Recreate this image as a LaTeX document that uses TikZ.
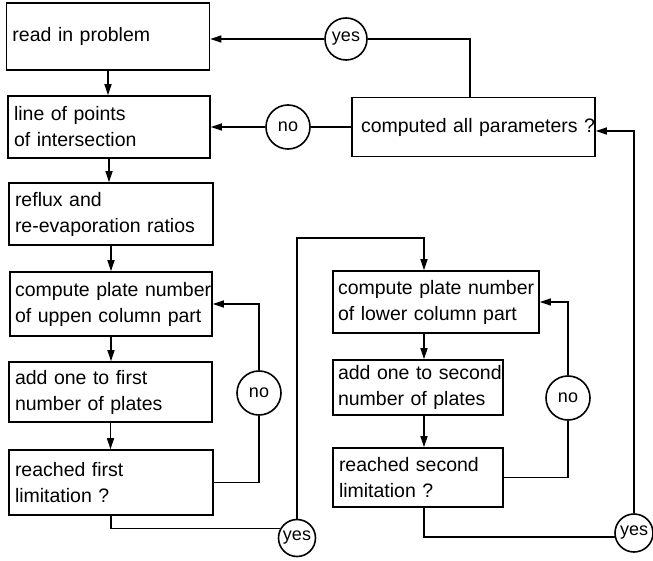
\documentclass[tikz,border=0pt]{standalone}
\usepackage{fontspec}
\setmainfont{Liberation Sans}
\usetikzlibrary{arrows.meta}
\begin{document}
\begin{tikzpicture}[x=1pt,y=-1pt,
  every node/.style={font=\fontsize{19.5}{26}\selectfont},
  box/.style={draw, line width=1.6pt, align=left, inner xsep=6pt, inner ysep=2pt},
  circ/.style={draw, circle, line width=1.6pt, inner sep=0pt, font=\fontsize{18}{20}\selectfont},
  conn/.style={line width=1.4pt},
  arr/.style={conn, -{Triangle[length=11pt,width=7pt]}}]
\useasboundingbox (0,0) rectangle (653,561);
% left column
\node[box, text width=191pt, minimum height=67pt] (read) at (108,36.5) {\mbox{read in problem}};
\node[box, text width=190pt, minimum height=62pt] (line) at (109,127) {\mbox{line of points}\\\mbox{of intersection}};
\node[box, text width=192pt, minimum height=62pt] (refl) at (111,214) {\mbox{reflux and}\\\mbox{re-evaporation ratios}};
\node[box, text width=192pt, minimum height=64pt, inner xsep=5pt] (cu) at (111,304) {\mbox{compute plate number}\\\mbox{of uppen column part}};
\node[box, text width=191pt, minimum height=60pt] (af) at (110.5,392) {\mbox{add one to first}\\\mbox{number of plates}};
\node[box, text width=192pt, minimum height=65pt] (fl) at (111,482.5) {\mbox{reached first}\\\mbox{limitation ?}};
% right column
\node[box, text width=225pt, inner xsep=9pt, minimum height=59pt] (comp) at (473.5,127) {\mbox{computed all parameters ?}};
\node[box, text width=196pt, inner xsep=5pt, minimum height=62pt] (cl) at (436,302) {\mbox{compute plate number}\\\mbox{of lower column part}};
\node[box, text width=160pt, inner xsep=5pt, minimum height=55pt] (as) at (418,387.5) {\mbox{add one to second}\\\mbox{number of plates}};
\node[box, text width=158pt, minimum height=59pt] (sl) at (418,477.5) {\mbox{reached second}\\\mbox{limitation ?}};
% circles
\node[circ, minimum size=42pt] (yesA) at (346,39) {yes};
\node[circ, minimum size=44pt] (noA) at (288,127) {no};
\node[circ, minimum size=44pt] (noL) at (259,393) {no};
\node[circ, minimum size=37pt] (yesL) at (297,538) {yes};
\node[circ, minimum size=44pt] (noR) at (568,398) {no};
\node[circ, minimum size=38pt] (yesR) at (634,533) {yes};
% coordinates
\coordinate (ya) at (470,39);
\coordinate (t1) at (297,238);
\coordinate (t2) at (424,238);
\coordinate (r1) at (634,131);
% left column flow
\draw[arr] (read.south) -- (read.south |- line.north);
\draw[arr] (line.south) -- (line.south |- refl.north);
\draw[arr] (refl.south) -- (refl.south |- cu.north);
\draw[arr] (cu.south) -- (cu.south |- af.north);
\draw[arr] (af.south) -- (af.south |- fl.north);
% top loop
\draw[conn] (comp.north -| ya) -- (ya) -- (yesA);
\draw[arr] (yesA) -- (read.east |- yesA);
\draw[conn] (comp) -- (noA);
\draw[arr] (noA) -- (line);
% left loop
\draw[conn] (fl.east) -| (noL);
\draw[arr] (noL) |- (cu);
\draw[conn] (fl.south) |- (yesL.150);
\draw[arr] (yesL) -- (t1) -- (t2) -- (cl.north -| t2);
% right column
\draw[arr] (cl.south -| t2) -- (as.north -| t2);
\draw[arr] (as.south -| t2) -- (sl.north -| t2);
\draw[conn] (sl.east) -| (noR);
\draw[arr] (noR) |- (cl);
\draw[conn] (sl.south -| t2) |- (yesR.192);
\draw[arr] (yesR) -- (r1) -- (comp.east |- r1);
\end{tikzpicture}
\end{document}
